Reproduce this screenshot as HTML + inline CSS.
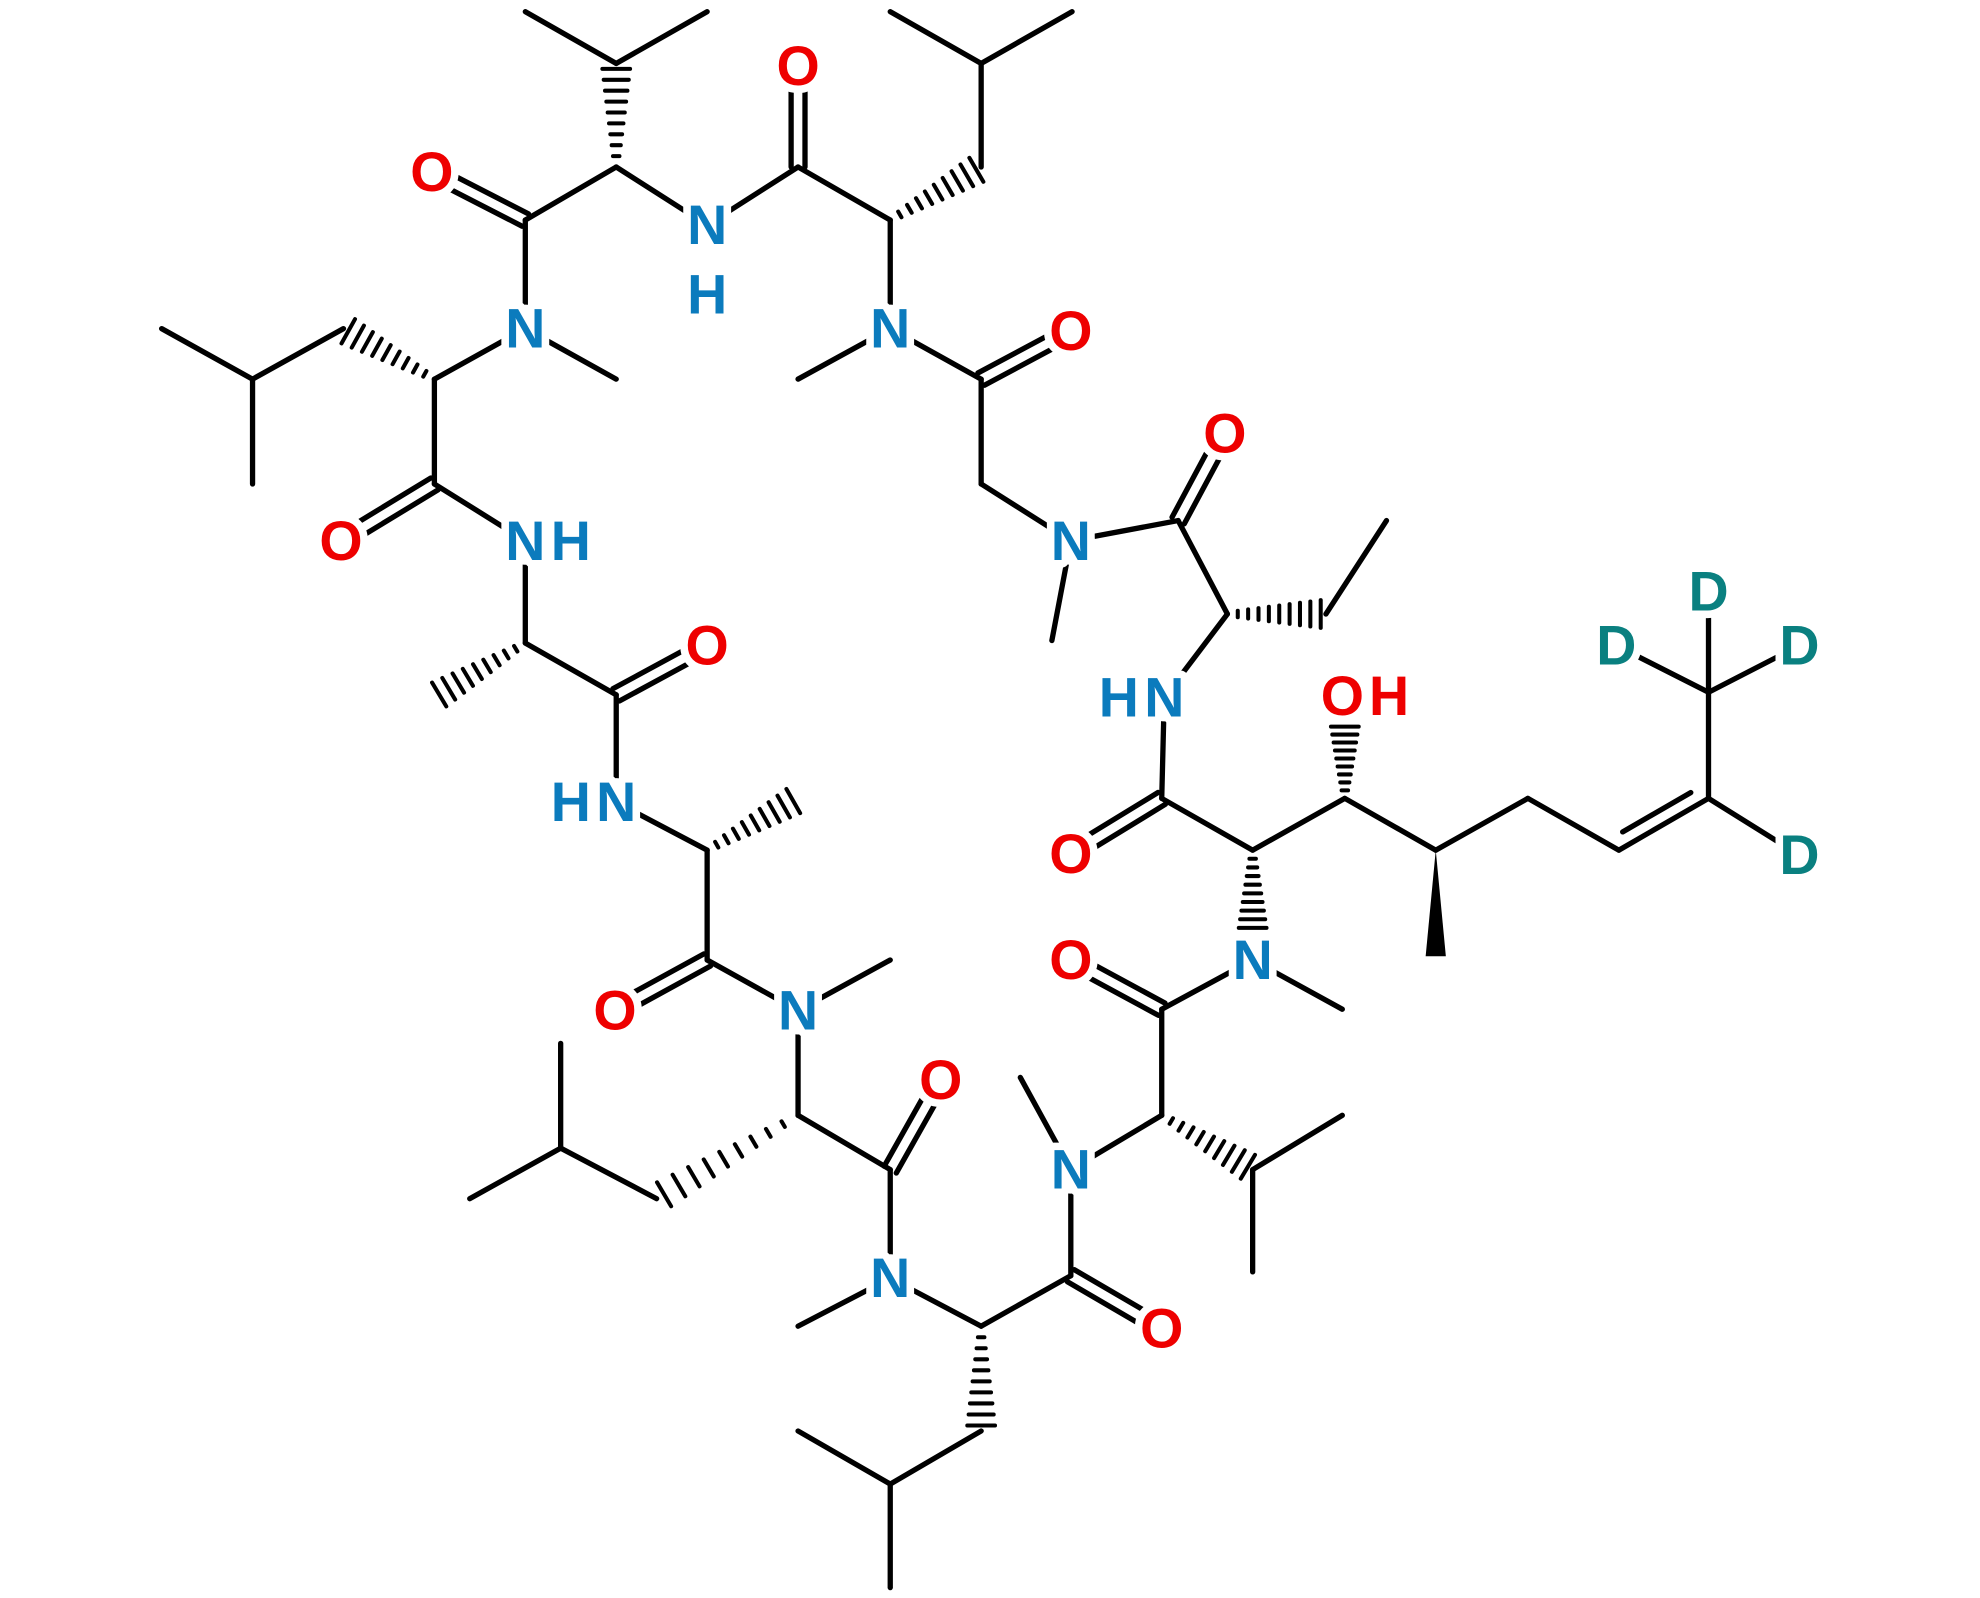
<!DOCTYPE html>
<html><head><meta charset="utf-8"><style>
html,body{margin:0;padding:0;background:#fff;}
svg{display:block;}
text{font-family:"Liberation Sans",Arial,sans-serif;font-weight:bold;font-size:44px;text-anchor:middle;dominant-baseline:central;stroke:#fff;stroke-width:12px;paint-order:stroke;stroke-linejoin:round;}
.O{fill:#ee0000}.N{fill:#0b7bbd}.D{fill:#0a8080}
</style></head><body>
<svg id="s" width="1980" height="1598" viewBox="0 0 1568 1265" xmlns="http://www.w3.org/2000/svg">
<g id="b" stroke="#000" stroke-width="4.2" stroke-linecap="round" fill="none"></g>
<g id="c" fill="#fff"></g>
<g id="t">
<text x="342" y="136" class="O">O</text>
<text x="560" y="178" class="N">N</text>
<text x="560" y="233" class="N">H</text>
<text x="632" y="52" class="O">O</text>
<text x="705" y="260" class="N">N</text>
<text x="848" y="262" class="O">O</text>
<text x="848" y="428" class="N">N</text>
<text x="970" y="343" class="O">O</text>
<text x="922" y="552" class="N">N</text>
<text x="886" y="552" class="N">H</text>
<text x="848" y="676" class="O">O</text>
<text x="1063" y="551" class="O">O</text>
<text x="1100" y="551" class="O">H</text>
<text x="1353" y="468" class="D">D</text>
<text x="1280" y="511" class="D">D</text>
<text x="1425" y="511" class="D">D</text>
<text x="1425" y="677" class="D">D</text>
<text x="992" y="760" class="N">N</text>
<text x="848" y="760" class="O">O</text>
<text x="848" y="926" class="N">N</text>
<text x="920" y="1052" class="O">O</text>
<text x="705" y="1012" class="N">N</text>
<text x="745" y="855" class="O">O</text>
<text x="632" y="800" class="N">N</text>
<text x="487" y="800" class="O">O</text>
<text x="488" y="635" class="N">N</text>
<text x="452" y="635" class="N">H</text>
<text x="560" y="511" class="O">O</text>
<text x="416" y="428" class="N">N</text>
<text x="452" y="428" class="N">H</text>
<text x="270" y="428" class="O">O</text>
<text x="416" y="260" class="N">N</text>
</g>
</svg>
<script>
var g=document.getElementById('b'),NS='http://www.w3.org/2000/svg';
function L(a,b,c,d,w){var e=document.createElementNS(NS,'line');e.setAttribute('x1',a);e.setAttribute('y1',b);e.setAttribute('x2',c);e.setAttribute('y2',d);if(w)e.setAttribute('stroke-width',w);g.appendChild(e);}
function S(p){for(var i=0;i<p.length-2;i+=2)L(p[i],p[i+1],p[i+2],p[i+3]);}
function D2(a,b,c,d){var dx=c-a,dy=d-b,l=Math.hypot(dx,dy),nx=-dy/l*5.5,ny=dx/l*5.5;L(a+nx,b+ny,c+nx,d+ny);L(a-nx,b-ny,c-nx,d-ny);}
function D1(a,b,c,d,sd){L(a,b,c,d);var dx=c-a,dy=d-b,l=Math.hypot(dx,dy),nx=-dy/l*11*sd,ny=dx/l*11*sd;L(a+nx+dx*.12,b+ny+dy*.12,c+nx-dx*.12,d+ny-dy*.12);}
function H(a,b,c,d){var dx=c-a,dy=d-b,l=Math.hypot(dx,dy),ux=-dy/l,uy=dx/l;for(var i=1;i<=9;i++){var t=i/9.5,x=a+dx*t,y=b+dy*t,w=1.5+t*10;L(x-ux*w,y-uy*w,x+ux*w,y+uy*w,3.2);}}
function W(a,b,c,d){var dx=c-a,dy=d-b,l=Math.hypot(dx,dy),ux=-dy/l*8,uy=dx/l*8;var p=document.createElementNS(NS,'polygon');p.setAttribute('points',a+','+b+' '+(c+ux)+','+(d+uy)+' '+(c-ux)+','+(d-uy));p.setAttribute('fill','#000');p.setAttribute('stroke','none');g.appendChild(p);}
H(488,132,488,50);S([416,9,488,50,560,9]);
S([416,260,416,174,488,132,560,178,632,132,705,174,705,260]);D2(416,174,342,136);
D2(632,132,632,52);
H(705,174,777,132);S([777,132,777,50,705,9]);L(777,50,849,9);
L(705,260,632,300);S([705,260,777,300,777,383,848,428,933,412,972,486,922,552,920,632,992,673,1065,632,1137,673,1210,632,1282,673]);
D2(777,300,848,262);L(848,428,833,507);D2(933,412,970,343);
H(972,486,1050,486);L(1050,486,1098,412);
D2(920,632,848,676);
H(1065,632,1065,572);W(1137,673,1137,757);
D1(1282,673,1353,632,-1);S([1353,632,1353,548,1353,468]);L(1353,548,1280,511);L(1353,548,1425,511);L(1353,632,1425,677);
H(992,673,992,738);L(992,760,1063,799);S([992,760,920,799,920,883,848,926,848,1010,777,1050,705,1012,705,926,632,883,632,800,560,760,560,673,488,635,488,550,416,509,416,428,344,383,344,300,416,260]);
D2(920,799,848,760);
H(920,883,992,926);S([1063,883,992,926,992,1007]);
L(848,926,808,853);D2(848,1010,920,1052);
H(777,1050,777,1133);S([777,1133,705,1175,632,1133]);L(705,1175,705,1257);
L(705,1012,632,1050);D2(705,926,745,855);
H(632,883,520,949);S([520,949,444,909,372,949]);L(444,909,444,826);
L(632,800,705,760);D2(560,760,487,800);
H(560,673,632,632);D2(488,550,560,511);
H(416,509,344,552);D2(344,383,270,428);
H(344,300,272,260);S([272,260,200,300,128,260]);L(200,300,200,383);
L(416,260,488,300);
var cg=document.getElementById('c'),ts=document.querySelectorAll('#t text');
for(var i=0;i<ts.length;i++){var c=document.createElementNS(NS,'circle');c.setAttribute('cx',ts[i].getAttribute('x'));c.setAttribute('cy',ts[i].getAttribute('y'));c.setAttribute('r',19);cg.appendChild(c);}
</script>
</body></html>
